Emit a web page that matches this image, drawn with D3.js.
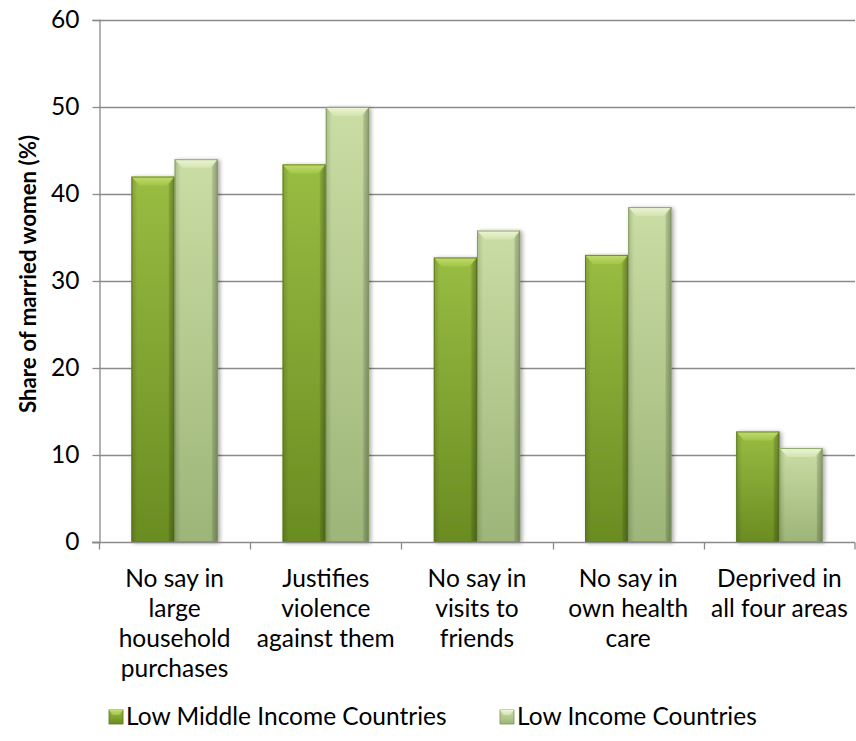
<!DOCTYPE html>
<html>
<head>
<meta charset="utf-8">
<script src="https://cdn.jsdelivr.net/npm/d3@7"></script>
<style>
  html, body { margin: 0; padding: 0; background: #fff; }
  svg { display: block; font-family: Lato, "Open Sans", sans-serif; }
</style>
</head>
<body>
<svg id="chart" width="856" height="741"></svg>
<script>
const categories = [
  ["No say in", "large", "household", "purchases"],
  ["Justifies", "violence", "against them"],
  ["No say in", "visits to", "friends"],
  ["No say in", "own health", "care"],
  ["Deprived in", "all four areas"]
];
const seriesNames = ["Low Middle Income Countries", "Low Income Countries"];
const lowMiddleIncome = [42.0, 43.4, 32.7, 33.0, 12.7];
const lowIncome = [44.0, 50.0, 35.8, 38.5, 10.8];
const yTicks = [0, 10, 20, 30, 40, 50, 60];

const FONT = "Lato, sans-serif";
const FS = 24.5;
const svg = d3.select("#chart");
const plot = { left: 99, right: 855, top: 20, bottom: 542 };

const x = d3.scaleBand().domain(d3.range(categories.length)).range([plot.left, plot.right]).paddingInner(0).paddingOuter(0);
const barW = x.bandwidth() / 3.5;
const xs = d3.scaleBand().domain([0, 1]).range([0.75 * barW, 0.75 * barW + 2 * barW]).padding(0);
const y = d3.scaleLinear().domain([0, 60]).range([plot.bottom, plot.top]);

const defs = svg.append("defs");
const palettes = [
  { light: "#99bc42", dark: "#6a8c22", edge: "#58761a", bevelTop: "#c2dc6e", bevelBot: "#a2c548" },
  { light: "#cadda4", dark: "#9db578", edge: "#7c9658", bevelTop: "#eef5d8", bevelBot: "#d3e3ae" }
];
palettes.forEach((p, i) => {
  const gv = defs.append("linearGradient").attr("id", "gv" + i).attr("x1", 0).attr("y1", 0).attr("x2", 0).attr("y2", 1);
  gv.append("stop").attr("offset", "0%").attr("stop-color", p.light);
  gv.append("stop").attr("offset", "100%").attr("stop-color", p.dark);
  const gh = defs.append("linearGradient").attr("id", "gh" + i).attr("x1", 0).attr("y1", 0).attr("x2", 1).attr("y2", 0);
  gh.append("stop").attr("offset", "0%").attr("stop-color", "#000").attr("stop-opacity", 0.15);
  gh.append("stop").attr("offset", "14%").attr("stop-color", "#000").attr("stop-opacity", 0.0);
  gh.append("stop").attr("offset", "84%").attr("stop-color", "#000").attr("stop-opacity", 0.0);
  gh.append("stop").attr("offset", "100%").attr("stop-color", "#000").attr("stop-opacity", 0.25);
  const gt = defs.append("linearGradient").attr("id", "gt" + i).attr("x1", 0).attr("y1", 0).attr("x2", 0).attr("y2", 1);
  gt.append("stop").attr("offset", "0%").attr("stop-color", p.bevelTop);
  gt.append("stop").attr("offset", "100%").attr("stop-color", p.bevelBot);
});
const shadow = defs.append("filter").attr("id", "shadow").attr("x", "-20%").attr("y", "-20%").attr("width", "140%").attr("height", "140%");
shadow.append("feGaussianBlur").attr("in", "SourceAlpha").attr("stdDeviation", 2);
shadow.append("feOffset").attr("dx", 1.5).attr("dy", 1).attr("result", "ob");
shadow.append("feComponentTransfer").append("feFuncA").attr("type", "linear").attr("slope", 0.35);
const m = shadow.append("feMerge");
m.append("feMergeNode");
m.append("feMergeNode").attr("in", "SourceGraphic");

// Gridlines
svg.append("g").selectAll("line").data(yTicks.filter(d => d > 0)).join("line")
  .attr("x1", plot.left).attr("x2", plot.right)
  .attr("y1", d => Math.round(y(d)) + 0.5).attr("y2", d => Math.round(y(d)) + 0.5)
  .attr("stroke", "#8a8a8a").attr("stroke-width", 1.3);

// Y axis
const yAxis = d3.axisLeft(y).tickValues(yTicks).tickSize(7).tickPadding(13).tickFormat(d3.format("d"));
const gy = svg.append("g").attr("transform", `translate(${plot.left + 0.5},0)`).call(yAxis);
gy.select(".domain").attr("stroke", "#8a8a8a").attr("stroke-width", 1.3);
gy.selectAll(".tick line").attr("stroke", "#8a8a8a").attr("stroke-width", 1.3);
gy.selectAll(".tick text").attr("font-family", FONT).attr("font-size", FS).attr("fill", "#000");

// Bars
const series = [lowMiddleIncome, lowIncome];
const bev = 8;
series.forEach((vals, si) => {
  const g = svg.append("g");
  vals.forEach((v, ci) => {
    const x0 = x(ci) + xs(si), w = xs.bandwidth();
    const y0 = y(v), h = y(0) - y(v);
    const bg = g.append("g").attr("filter", "url(#shadow)");
    bg.append("rect").attr("x", x0).attr("y", y0).attr("width", w).attr("height", h).attr("fill", `url(#gv${si})`);
    bg.append("rect").attr("x", x0).attr("y", y0).attr("width", w).attr("height", h).attr("fill", `url(#gh${si})`);
    bg.append("path").attr("d", `M${x0},${y0}L${x0 + w},${y0}L${x0 + w - bev},${y0 + bev + 1}L${x0 + bev},${y0 + bev + 1}Z`)
      .attr("fill", `url(#gt${si})`);
    bg.append("path").attr("d", `M${x0 + w},${y0}L${x0 + w - bev * 0.7},${y0 + bev + 1}L${x0 + w - bev * 0.7},${y0 + h}L${x0 + w},${y0 + h}Z`)
      .attr("fill", "#000").attr("opacity", 0.07);
    bg.append("rect").attr("x", x0 + 0.5).attr("y", y0 + 0.5).attr("width", w - 1).attr("height", h - 1)
      .attr("fill", "none").attr("stroke", palettes[si].edge).attr("stroke-width", 1).attr("opacity", 0.8);
  });
});

// X axis
const xAxisY = plot.bottom + 0.5;
svg.append("line").attr("x1", plot.left - 7).attr("x2", plot.right).attr("y1", xAxisY).attr("y2", xAxisY)
  .attr("stroke", "#8a8a8a").attr("stroke-width", 1.3);
const boundaries = d3.range(categories.length + 1).map(i => i < categories.length ? x(i) : x(categories.length - 1) + x.bandwidth());
svg.append("g").selectAll("line").data(boundaries).join("line")
  .attr("x1", d => Math.min(Math.round(d) + 0.5, 855)).attr("x2", d => Math.min(Math.round(d) + 0.5, 855))
  .attr("y1", xAxisY).attr("y2", xAxisY + 7)
  .attr("stroke", "#8a8a8a").attr("stroke-width", 1.3);

// Category labels
const lab = svg.append("g").attr("font-family", FONT).attr("font-size", FS).attr("fill", "#000").attr("text-anchor", "middle");
categories.forEach((lines, ci) => {
  const cx = x(ci) + x.bandwidth() / 2;
  const t = lab.append("text").attr("x", cx).attr("y", 587);
  lines.forEach((ln, li) => t.append("tspan").attr("x", cx).attr("y", 587 + li * 30).text(ln));
});

// Y title
svg.append("text").attr("transform", "translate(36,274) rotate(-90)").attr("text-anchor", "middle")
  .attr("font-family", FONT).attr("font-weight", "bold").attr("font-size", 22.3).attr("fill", "#000")
  .text("Share of married women (%)");

// Legend
const legendItems = [{ x: 109, name: seriesNames[0] }, { x: 500, name: seriesNames[1] }];
const lg = svg.append("g");
legendItems.forEach((it, i) => {
  const s = 14;
  const gg = lg.append("g");
  gg.append("rect").attr("x", it.x).attr("y", 710).attr("width", s).attr("height", s).attr("fill", `url(#gv${i})`)
    .attr("stroke", palettes[i].edge).attr("stroke-width", 0.8);
  gg.append("path").attr("d", `M${it.x},710L${it.x + s},710L${it.x + s - 4},715L${it.x + 4},715Z`).attr("fill", `url(#gt${i})`);
  gg.append("text").attr("x", it.x + s + 3).attr("y", 725).attr("font-family", FONT).attr("font-size", FS)
    .attr("fill", "#000").text(it.name);
});
</script>
</body>
</html>
